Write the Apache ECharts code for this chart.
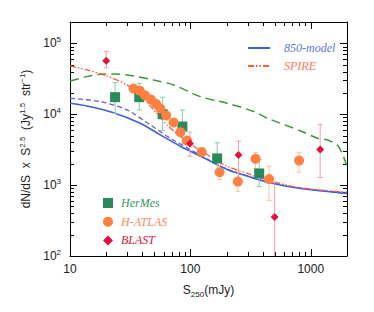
<!DOCTYPE html>
<html><head><meta charset="utf-8">
<script src="https://cdn.jsdelivr.net/npm/echarts@6/dist/echarts.min.js"></script>
<style>html,body{margin:0;padding:0;background:#fff}#c{width:374px;height:312px}</style>
</head><body><div id="c"></div>
<script>
// ---- data ----
const hermesX = [23.7, 37.6, 58.8, 85.8, 167, 373];
const hermesY = [17400, 17400, 10000, 6700, 2380, 1460];
const hermesLo = [10300, 11500, 5900, 3900, 1440, 950];
const hermesHi = [27900, 27000, 17400, 11500, 3950, 2300];

const hatlasX = [33.7, 38, 41.9, 47, 51.8, 56.2, 63, 72.6, 82.6, 93.8, 124, 175, 248, 348, 450, 800];
const hatlasY = [23000, 21500, 18500, 16100, 14000, 12000, 9600, 7640, 5580, 4250, 2940, 1520, 1120, 2350, 1215, 2220];
const hatlasLo = [21500, 20000, 17300, 15000, 13000, 11100, 8900, 7000, 5100, 3850, 2650, 1200, 820, 1700, 610, 1520];
const hatlasHi = [24500, 23000, 19800, 17200, 15000, 12900, 10300, 8300, 6100, 4650, 3250, 1930, 1600, 2900, 1850, 2900];

const blastX = [20, 99, 251, 501, 1197];
const blastY = [57000, 3860, 2670, 354, 3180];
const blastLo = [45000, 2560, 1020, 50, 1280];
const blastHi = [77000, 5600, 4170, 1100, 7200];

const modelX = [10, 13.8, 23, 38.3, 56.2, 82.5, 100, 138, 202, 297, 435, 826, 2000];
const modelY = [14300, 13100, 10500, 7460, 5110, 3540, 3000, 2290, 1660, 1340, 1100, 898, 764];

const model2X = [10, 17.8, 29.7, 46.4, 68.1, 100, 138, 202, 297, 435, 826, 2000];
const model2Y = [16800, 15100, 11500, 7080, 4590, 3160, 2330, 1680, 1350, 1110, 905, 770];

const spireX = [10, 13.8, 20.2, 29.7, 38.3, 49.5, 63.9, 82.5, 106.6, 138, 202, 297, 435, 826, 2000];
const spireY = [48000, 42100, 34600, 25900, 18700, 11500, 7080, 4840, 3540, 2700, 1850, 1460, 1175, 917, 795];

const greenX = [10, 13.8, 17.8, 23, 33.7, 49.5, 72.6, 121, 202, 337, 435, 826, 1135, 1400, 1700, 2000];
const greenY = [29400, 33900, 36600, 37000, 34600, 30400, 25900, 17700, 14300, 10900, 8800, 5800, 4590, 4300, 3500, 1850];

const xMinorTicks = [20, 30, 40, 50, 60, 70, 80, 90, 200, 300, 400, 500, 600, 700, 800, 900];
const yMinorTicks = [200, 300, 400, 500, 600, 700, 800, 900, 2000, 3000, 4000, 5000, 6000, 7000, 8000, 9000,
  20000, 30000, 40000, 50000, 60000, 70000, 80000, 90000, 200000];

const zip = (a, b) => a.map((v, i) => [v, b[i]]);
const zip3 = (a, b, c) => a.map((v, i) => [v, b[i], c[i]]);

const C = {
  hermes: '#2b8a5c', hermesErr: '#8cc8a8',
  hatlas: '#ff8040', hatlasErr: '#ffbf9a',
  blast: '#e2123e', blastErr: '#f0a0b4',
  model: '#3d5fe0', model2: '#6a5cc8', spire: '#ff5a3c', green: '#3a9a3a'
};

function errRenderer(color) {
  return function (params, api) {
    const x = api.value(0), lo = api.value(1), hi = api.value(2);
    const p1 = api.coord([x, hi]), p2 = api.coord([x, lo]);
    const w = 2.5;
    const st = { stroke: color, lineWidth: 1 };
    return { type: 'group', children: [
      { type: 'line', shape: { x1: p1[0], y1: p1[1], x2: p2[0], y2: p2[1] }, style: st },
      { type: 'line', shape: { x1: p1[0] - w, y1: p1[1], x2: p1[0] + w, y2: p1[1] }, style: st },
      { type: 'line', shape: { x1: p2[0] - w, y1: p2[1], x2: p2[0] + w, y2: p2[1] }, style: st }
    ]};
  };
}

function minorRenderer(params, api) {
  const cs = params.coordSys;
  const top = cs.y, bottom = cs.y + cs.height, left = cs.x, right = cs.x + cs.width;
  const st = { stroke: '#000', lineWidth: 1 };
  const ch = [];
  xMinorTicks.forEach(v => {
    const px = Math.round(api.coord([v, 1000])[0]) + 0.5;
    ch.push({ type: 'line', shape: { x1: px, y1: bottom, x2: px, y2: bottom - 4 }, style: st });
    ch.push({ type: 'line', shape: { x1: px, y1: top, x2: px, y2: top + 4 }, style: st });
  });
  yMinorTicks.forEach(v => {
    const py = Math.round(api.coord([100, v])[1]) + 0.5;
    ch.push({ type: 'line', shape: { x1: left, y1: py, x2: left + 4, y2: py }, style: st });
    ch.push({ type: 'line', shape: { x1: right, y1: py, x2: right - 4, y2: py }, style: st });
  });
  return { type: 'group', children: ch };
}

const font = 'Liberation Sans, Arial, sans-serif';
const legFont = 'Liberation Serif, serif';

const xBase = {
  type: 'log', logBase: 10, min: 10, max: 2000,
  axisLine: { show: true, lineStyle: { color: '#000', width: 1 } },
  axisTick: { show: true, inside: true, length: 7, lineStyle: { color: '#000' } },
  splitLine: { show: false }
};
const yBase = {
  type: 'log', logBase: 10, min: 100, max: 200000,
  axisLine: { show: true, lineStyle: { color: '#000', width: 1 } },
  axisTick: { show: true, inside: true, length: 7, lineStyle: { color: '#000' } },
  splitLine: { show: false }
};

const option = {
  animation: false,
  backgroundColor: '#fff',
  grid: { left: 70, right: 27, top: 22, bottom: 56 },
  xAxis: [
    Object.assign({}, xBase, {
      position: 'bottom',
      name: 'S{sub|250}(mJy)', nameLocation: 'middle', nameGap: 26,
      nameTextStyle: { fontFamily: font, fontSize: 12, color: '#222',
        rich: { sub: { fontSize: 8, fontFamily: font, color: '#222', verticalAlign: 'bottom', padding: [8, 0, 0, 0] } } },
      axisLabel: { show: true, margin: 7, fontFamily: font, fontSize: 12, color: '#222', showMaxLabel: false,
        formatter: v => String(Math.round(v)) }
    }),
    Object.assign({}, xBase, { position: 'top', axisLabel: { show: false } })
  ],
  yAxis: [
    Object.assign({}, yBase, {
      position: 'left',
      name: 'dN/dS  x  S{sup|2.5}  (Jy{sup|1.5}  str{sup|−1})', nameLocation: 'middle', nameGap: 31, nameRotate: 90,
      nameTextStyle: { fontFamily: font, fontSize: 12, color: '#222',
        rich: { sup: { fontSize: 8, fontFamily: font, color: '#222', verticalAlign: 'top', padding: [0, 0, 8, 0] } } },
      axisLabel: { show: true, margin: 9, fontFamily: font, fontSize: 12, color: '#222', showMaxLabel: false,
        formatter: v => '10{s|' + Math.round(Math.log10(v)) + '}',
        rich: { s: { fontSize: 8, fontFamily: font, color: '#222', verticalAlign: 'top', padding: [0, 0, 8, 0] } } }
    }),
    Object.assign({}, yBase, { position: 'right', axisLabel: { show: false } })
  ],
  legend: [
    {
      data: [
        { name: '850-model', textStyle: { color: '#5a78e8' } },
        { name: 'SPIRE', textStyle: { color: '#ff7a5a' } }
      ],
      orient: 'vertical', left: 242, top: 37, itemWidth: 22, itemHeight: 10, itemGap: 6,
      itemStyle: { opacity: 0, borderWidth: 0 },
      textStyle: { fontFamily: legFont, fontStyle: 'italic', fontSize: 12, padding: [0, 0, 0, 9] },
      selectedMode: false
    },
    {
      data: [
        { name: 'HerMes', textStyle: { color: '#2e9a62' } },
        { name: 'H-ATLAS', textStyle: { color: '#ff8a50' } },
        { name: 'BLAST', textStyle: { color: '#e2123e' } }
      ],
      orient: 'vertical', left: 98, top: 192, itemWidth: 10, itemHeight: 10, itemGap: 6.7,
      textStyle: { fontFamily: legFont, fontStyle: 'italic', fontSize: 12, padding: [0, 0, 0, 3] },
      selectedMode: false
    }
  ],
  series: [
    { type: 'custom', name: 'minorTicks', renderItem: minorRenderer, data: [[100, 1000]], silent: true, z: 1 },
    { type: 'line', name: 'green', data: zip(greenX, greenY), symbol: 'none', smooth: 0.3,
      lineStyle: { color: C.green, width: 1.5, type: [9, 5] }, z: 2 },
    { type: 'line', name: 'model2', data: zip(model2X, model2Y), symbol: 'none', smooth: 0.3,
      lineStyle: { color: C.model2, width: 1.3, type: [5, 3] }, z: 2 },
    { type: 'line', name: '850-model', data: zip(modelX, modelY), symbol: 'none', smooth: 0.3,
      itemStyle: { color: C.model },
      lineStyle: { color: C.model, width: 1.6 }, z: 3 },
    { type: 'line', name: 'SPIRE', data: zip(spireX, spireY), symbol: 'none', smooth: 0.3,
      itemStyle: { color: C.spire },
      lineStyle: { color: C.spire, width: 1.3, type: [6, 2, 1.5, 2, 1.5, 2] }, z: 3 },
    { type: 'custom', name: 'hermesErr', renderItem: errRenderer(C.hermesErr), data: zip3(hermesX, hermesLo, hermesHi), clip: true, z: 4 },
    { type: 'custom', name: 'hatlasErr', renderItem: errRenderer(C.hatlasErr), data: zip3(hatlasX, hatlasLo, hatlasHi), clip: true, z: 4 },
    { type: 'custom', name: 'blastErr', renderItem: errRenderer(C.blastErr), data: zip3(blastX, blastLo, blastHi), clip: true, z: 4 },
    { type: 'scatter', name: 'HerMes', data: zip(hermesX, hermesY), symbol: 'rect', symbolSize: 10,
      itemStyle: { color: C.hermes, opacity: 1 }, z: 5 },
    { type: 'scatter', name: 'H-ATLAS', data: zip(hatlasX, hatlasY), symbol: 'circle', symbolSize: 10,
      itemStyle: { color: C.hatlas, opacity: 1 }, z: 5 },
    { type: 'scatter', name: 'BLAST', data: zip(blastX, blastY), symbol: 'diamond', symbolSize: 8,
      itemStyle: { color: C.blast, opacity: 1 }, z: 6 }
  ]
};

const chart = echarts.init(document.getElementById('c'), null, { renderer: 'svg' });
chart.setOption(option);
</script>
</body></html>
